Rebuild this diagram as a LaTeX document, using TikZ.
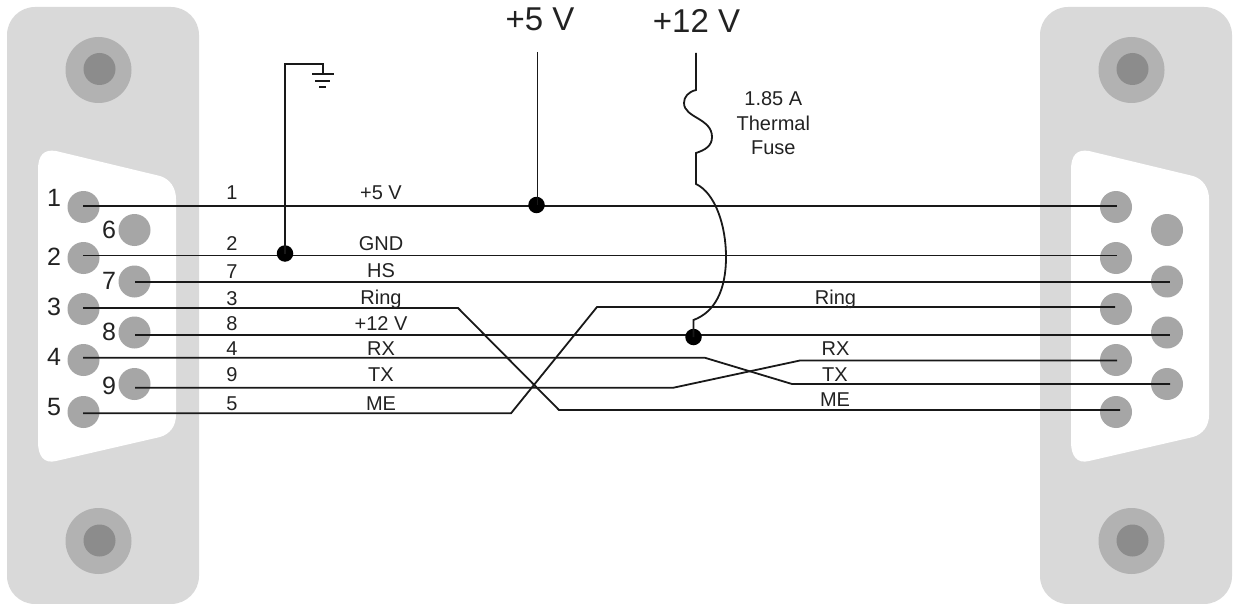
\documentclass[tikz,border=0pt]{standalone}
\usepackage{fontspec}
\setmainfont{Liberation Sans}
\definecolor{panelc}{HTML}{D9D9D9}
\definecolor{pinc}{HTML}{A6A6A6}
\definecolor{screwo}{HTML}{B2B2B2}
\definecolor{screwi}{HTML}{8C8C8C}
\definecolor{textc}{HTML}{222222}
\tikzset{
 x=1pt,y=-1pt,
 panel/.style={fill=panelc,draw=none,rounded corners=28pt},
 shell/.style={fill=white,draw=none},
 pinn/.style={circle,fill=pinc,draw=none,minimum size=32pt,inner sep=0pt},
 screwout/.style={circle,fill=screwo,draw=none,minimum size=66pt,inner sep=0pt},
 screwin/.style={circle,fill=screwi,draw=none,minimum size=32pt,inner sep=0pt},
 wire/.style={draw=black!90,line width=1.8pt,line join=miter},
 dotn/.style={circle,fill=black,draw=none,minimum size=16.5pt,inner sep=0pt},
 big/.style={inner sep=0pt,text=textc,font=\fontsize{33}{36}\selectfont},
 pinl/.style={inner sep=0pt,anchor=base,text=textc,font=\fontsize{25}{27}\selectfont},
 small/.style={inner sep=0pt,anchor=base,text=textc,font=\fontsize{20}{22}\selectfont},
}
\begin{document}
\begin{tikzpicture}
\useasboundingbox (0,0) rectangle (1233,604);
% panels
\fill[panel] (7,7) rectangle (199,604);
\fill[panel] (1040,7) rectangle (1232,604);
% shells
\fill[shell] (38,170) .. controls (38,155) and (44,149) .. (56,151) -- (160,176)
  .. controls (170,179) and (176,188) .. (176,199) -- (176,415)
  .. controls (176,426) and (170,434) .. (160,437) -- (56,461)
  .. controls (44,464) and (38,456) .. (38,442) -- cycle;
\fill[shell] (1071,170) .. controls (1071,155) and (1077,149) .. (1089,151) -- (1193,176)
  .. controls (1203,179) and (1209,188) .. (1209,199) -- (1209,415)
  .. controls (1209,426) and (1203,434) .. (1193,437) -- (1089,461)
  .. controls (1077,464) and (1071,456) .. (1071,442) -- cycle;
% screws
\node[screwout] (slt) at (98.5,70) {};
\node[screwin] (slti) at (99.5,69) {};
\node[screwout] (slb) at (98.5,541) {};
\node[screwin] (slbi) at (99.5,540.5) {};
\node[screwout] (srt) at (1131.5,70) {};
\node[screwin] (srti) at (1132.5,69) {};
\node[screwout] (srb) at (1131.5,541) {};
\node[screwin] (srbi) at (1132.5,540.5) {};
% left pins
\foreach \n/\x/\y in {1/83.5/207,2/83.5/258,3/83.5/309,4/83.5/360,5/83.5/412,6/134.5/230,7/134.5/281.5,8/134.5/332.5,9/134.5/384}{
  \node[pinn] (L\n) at (\x,\y) {};
}
\foreach \n/\x/\y in {1/1116/207,2/1116/258,3/1116/309,4/1116/360,5/1116/412,6/1167/230,7/1167/281.5,8/1167/332.5,9/1167/384}{
  \node[pinn] (R\n) at (\x,\y) {};
}
% pin labels
\foreach \t/\x/\y in {1/54/207,2/54/265,3/54/315,4/54/365,5/54/415,6/109/238,7/109/289,8/109/340,9/109/394}{
  \node[pinl] (pl\t) at (\x,\y) {\t};
}
% wire ends
\coordinate (a1) at (83,205.7); \coordinate (b1) at (1117,205.7);
\coordinate (a2) at (83,255.4); \coordinate (b2) at (1117,255.4);
\coordinate (a7) at (135,281.8); \coordinate (b7) at (1170,281.8);
\coordinate (a3) at (83,308); \coordinate (k3a) at (458,308); \coordinate (k3b) at (559,410); \coordinate (b3) at (1120,410);
\coordinate (a5) at (83,413.3); \coordinate (k5a) at (511,413.3); \coordinate (k5b) at (597,307); \coordinate (b5) at (1115,307);
\coordinate (a8) at (135,334.6); \coordinate (b8) at (1170,334.6);
\coordinate (a4) at (83,357.8); \coordinate (k4a) at (705,357.8); \coordinate (k4b) at (792,384); \coordinate (b4) at (1170,384);
\coordinate (a9) at (135,387.8); \coordinate (k9a) at (673,387.8); \coordinate (k9b) at (800,360.5); \coordinate (b9) at (1117,360.5);
% wires
\draw[wire] (a1) -- (b1);
\draw[wire] (a2) -- (b2);
\draw[wire] (a7) -- (b7);
\draw[wire] (a3) -- (k3a) -- (k3b) -- (b3);
\draw[wire] (a5) -- (k5a) -- (k5b) -- (b5);
\draw[wire] (a8) -- (b8);
\draw[wire] (a4) -- (k4a) -- (k4b) -- (b4);
\draw[wire] (a9) -- (k9a) -- (k9b) -- (b9);
% junctions
\node[dotn] (d5) at (536.5,205) {};
\node[dotn] (dg) at (285,253.5) {};
\node[dotn] (d12) at (693.5,337) {};
% ground
\coordinate (g1) at (285,64); \coordinate (g2) at (323,64); \coordinate (g3) at (323,74);
\coordinate (ga) at (312,74); \coordinate (gb) at (334,74);
\coordinate (gc) at (315,81); \coordinate (gd) at (330,81);
\coordinate (ge) at (319,87); \coordinate (gf) at (326,87);
\draw[wire] (dg.center) -- (g1) -- (g2) -- (g3);
\draw[wire] (ga) -- (gb);
\draw[wire] (gc) -- (gd);
\draw[wire] (ge) -- (gf);
% +5 V
\node[big] (v5) at (540,19.5) {+5 V};
\coordinate (v5e) at (537.5,52);
\draw[wire] (v5e) -- (v5e |- d5.center);
% +12 V with fuse
\node[big] (v12) at (696.5,21) {+12 V};
\coordinate (v12e) at (696,53);
\draw[wire] (v12e) -- (696,90)
  .. controls (688,92) and (684,97) .. (684,103)
  .. controls (684,118) and (712,118) .. (712,137)
  .. controls (712,146) and (705,150) .. (696,153)
  -- (696,184)
  .. controls (715,193) and (726,225) .. (726,257)
  .. controls (726,290) and (715,312) .. (693.5,320)
  -- (d12.center);
% fuse label
\node[small] (fa) at (773.3,106) {1.85 A};
\node[small] (fb) at (773.3,130.7) {Thermal};
\node[small] (fc) at (773.3,155) {Fuse};
% wire labels
\foreach \t/\nm/\x/\y in {1/n1/232/200,2/n2/232/250.7,7/n7/232/278,3/n3/232/305,8/n8/232/330.7,4/n4/232/355,9/n9/232/381,5/n5/232/410,
  +5 V/s1/381/200,GND/s2/381/250.7,HS/s7/381/277.5,Ring/s3/381/304,+12 V/s8/381/330.7,RX/s4/381/355,TX/s9/381/381,ME/s5/381/410,
  Ring/r1/835.5/304,RX/r2/835.5/355,TX/r3/835/381,ME/r4/835/406.5}{
  \node[small] (\nm) at (\x,\y) {\t};
}
\end{tikzpicture}
\end{document}
